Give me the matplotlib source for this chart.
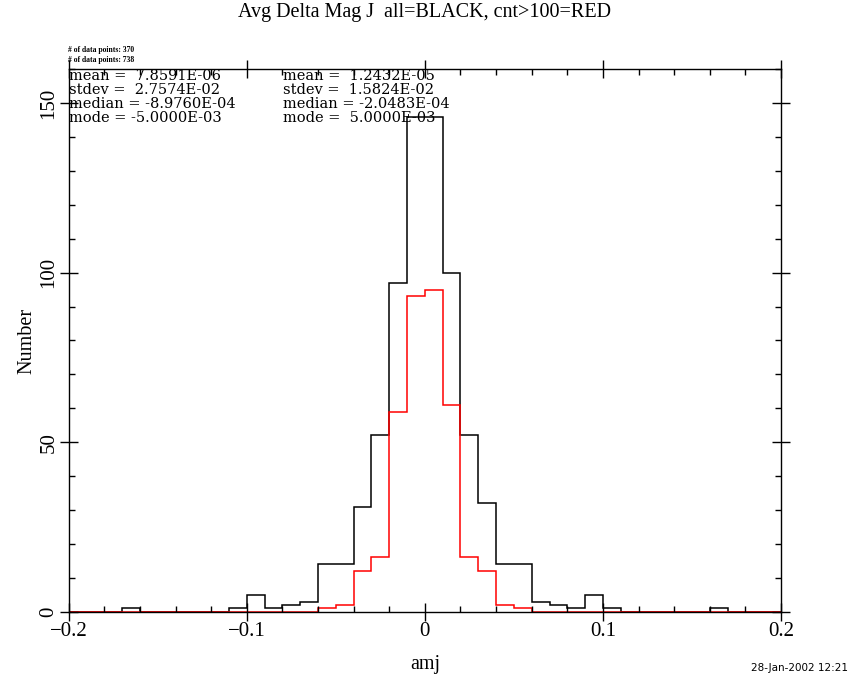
import matplotlib.pyplot as plt
import numpy as np

# histogram bins: 0.01 wide, from -0.2 to 0.2
bin_edges = np.linspace(-0.2, 0.2, 41)

# all points (black), one count per bin
all_counts = [0, 0, 0, 1, 0, 0, 0, 0, 0, 1,
              5, 1, 2, 3, 14, 14, 31, 52, 97, 146,
              146, 100, 52, 32, 14, 14, 3, 2, 1, 5,
              1, 0, 0, 0, 0, 0, 1, 0, 0, 0]

# cnt>100 points (red)
cnt_counts = [0, 0, 0, 0, 0, 0, 0, 0, 0, 0,
              0, 0, 0, 0, 1, 2, 12, 16, 59, 93,
              95, 61, 16, 12, 2, 1, 0, 0, 0, 0,
              0, 0, 0, 0, 0, 0, 0, 0, 0, 0]

stats_all = ["mean =  7.8591E-06", "stdev =  2.7574E-02",
             "median = -8.9760E-04", "mode = -5.0000E-03"]
stats_cnt = ["mean =  1.2432E-05", "stdev =  1.5824E-02",
             "median = -2.0483E-04", "mode =  5.0000E-03"]
npoints = [370, 738]

serif = "Liberation Serif"

fig = plt.figure(figsize=(8.5, 6.8), dpi=100)
ax = fig.add_axes([68.7 / 850, 68.3 / 680, (781 - 68.7) / 850, (611.7 - 69.3) / 680])

ax.stairs(all_counts, bin_edges, color="black", linewidth=1.1)
ax.stairs(cnt_counts, bin_edges, color="red", linewidth=1.1)

ax.set_xlim(-0.2, 0.2)
ax.set_ylim(0, 160)
ax.set_xticks([-0.2, -0.1, 0, 0.1, 0.2])
ax.set_xticklabels(["\u22120.2", "\u22120.1", "0", "0.1", "0.2"])
ax.set_xticks(np.arange(-0.2, 0.21, 0.02), minor=True)
ax.set_yticks([0, 50, 100, 150])
ax.set_yticks(np.arange(0, 161, 10), minor=True)
ax.tick_params(which="major", direction="inout", length=13, width=1,
               top=True, right=True, labelsize=15, pad=1)
ax.tick_params(which="minor", direction="in", length=4.5, width=1,
               top=True, right=True)
for lab in ax.get_xticklabels() + ax.get_yticklabels():
    lab.set_family(serif)
for lab in ax.get_yticklabels():
    lab.set_rotation(90)
    lab.set_va("center")
for sp in ax.spines.values():
    sp.set_linewidth(1)

ax.set_xlabel("amj", fontsize=14.5, family=serif, labelpad=10)
ax.set_ylabel("Number", fontsize=14.5, family=serif, labelpad=2)

fig.text(0.5, 1 - 13 / 680, "Avg Delta Mag J  all=BLACK, cnt>100=RED",
         ha="center", va="center", fontsize=14.5, family=serif)

fig.text(68 / 850, 1 - 50 / 680, f"# of data points: {npoints[0]}",
         ha="left", va="center", fontsize=5.5, family=serif, fontweight="bold")
fig.text(68 / 850, 1 - 60 / 680, f"# of data points: {npoints[1]}",
         ha="left", va="center", fontsize=5.5, family=serif, fontweight="bold")

for i, (a, c) in enumerate(zip(stats_all, stats_cnt)):
    y = 1 - (76 + 13.9 * i) / 680
    fig.text(69 / 850, y, a, ha="left", va="center", fontsize=10.5, family="DejaVu Serif")
    fig.text(283 / 850, y, c, ha="left", va="center", fontsize=10.5, family="DejaVu Serif")

fig.text(848 / 850, 1 - 668 / 680, "28-Jan-2002 12:21", ha="right", va="center",
         fontsize=7.5, family="DejaVu Sans")

fig.savefig("out.png", dpi=100)
